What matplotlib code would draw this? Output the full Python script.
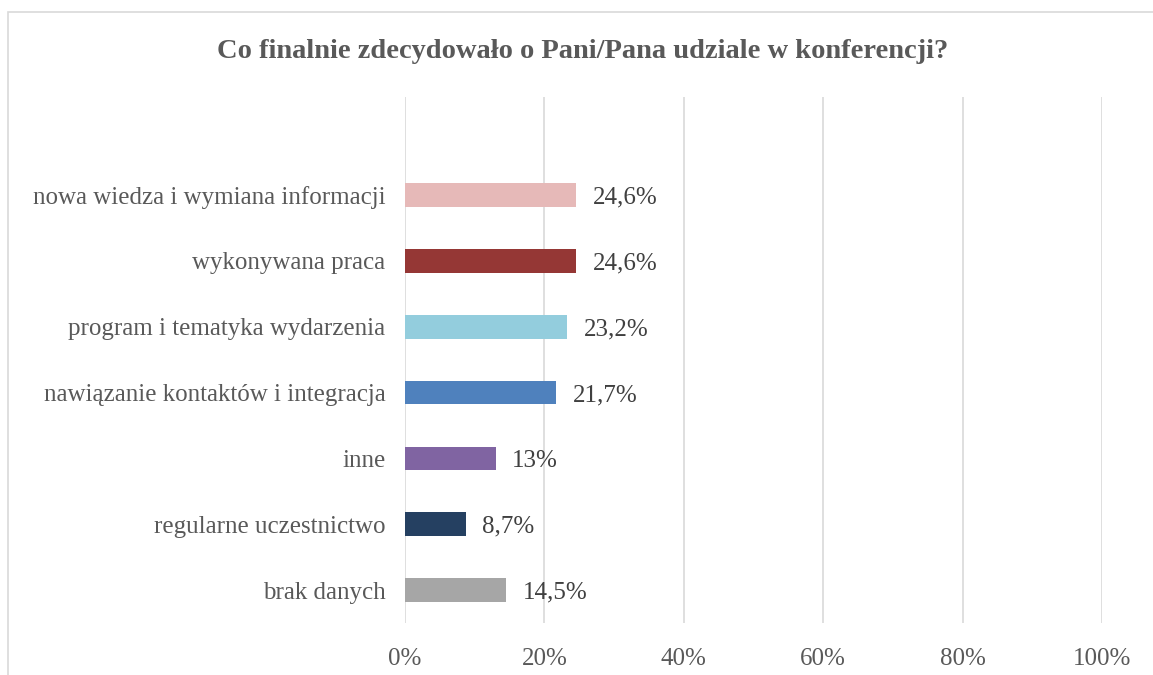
import matplotlib.pyplot as plt
from matplotlib.patches import Rectangle

# data
categories = ["nowa wiedza i wymiana informacji", "wykonywana praca",
              "program i tematyka wydarzenia", "nawiązanie kontaktów i integracja",
              "inne", "regularne uczestnictwo", "brak danych"]
values = [24.6, 24.6, 23.2, 21.7, 13.0, 8.7, 14.5]
value_labels = ["24,6%", "24,6%", "23,2%", "21,7%", "13%", "8,7%", "14,5%"]
colors = ["#E6B9B8", "#953735", "#93CDDD", "#4F81BD", "#8064A2", "#254061", "#A6A6A6"]
xticks = [0, 20, 40, 60, 80, 100]
xtick_labels = ["0%", "20%", "40%", "60%", "80%", "100%"]
title = "Co finalnie zdecydowało o Pani/Pana udziale w konferencji?"

W, H = 1153, 675
fig = plt.figure(figsize=(W / 100, H / 100), dpi=100)
font = "Liberation Serif"

# outer chart border (only left and top visible in the picture)
fig.patches.append(Rectangle((8 / W, -0.1), 1.2, 1 - 12 / H + 0.1, transform=fig.transFigure,
                             fill=False, edgecolor="#D9D9D9", linewidth=1.2))

ax = fig.add_axes([405 / W, 1 - 623 / H, (1102 - 405) / W, (623 - 97) / H])
pos = list(range(len(categories)))
ax.barh(pos, values, height=0.36, color=colors, zorder=3)
ax.set_xlim(0, 100)
ax.set_ylim(6.5, -1.49)
ax.set_xticks(xticks)
ax.set_xticklabels(xtick_labels, fontsize=18, color="#595959", family=font)
ax.set_yticks(pos)
ax.set_yticklabels(categories, fontsize=18, color="#595959", family=font)
ax.tick_params(length=0, axis="y", pad=14)
ax.tick_params(length=0, axis="x", pad=18)
ax.grid(axis="x", color="#D9D9D9", linewidth=1.2, zorder=0)
for s in ax.spines.values():
    s.set_visible(False)

for p, v, lab in zip(pos, values, value_labels):
    ax.text(v + 2.4, p + 0.04, lab, va="center", ha="left", fontsize=18, color="#404040", family=font)

fig.text(583 / W, 1 - 51 / H, title, ha="center", va="center", fontsize=20.5,
         fontweight="bold", color="#595959", family=font)

fig.savefig("out.png", dpi=100)
